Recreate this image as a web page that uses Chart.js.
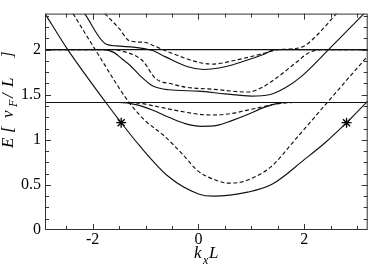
<!DOCTYPE html>
<html>
<head>
<meta charset="utf-8">
<script src="https://cdn.jsdelivr.net/npm/chart.js@4"></script>
<style>
  html, body { margin: 0; padding: 0; background: #fff; }
  #wrap { width: 374px; height: 268px; }
</style>
</head>
<body>
<div id="wrap"><canvas id="chart"></canvas></div>
<script>
// band data: k_x L  and  E [v_F/L]
const kSolid1 = [-2.9, -2.47, -1.75, -1.46, -1.12, -0.56, 0, 0.28, 0.93, 1.4, 2.0, 2.4, 2.8, 3.2];
const eSolid1 = [2.4, 2.0, 1.414, 1.19, 0.94, 0.59, 0.40, 0.375, 0.42, 0.51, 0.78, 0.97, 1.19, 1.43];

const kDash1 = [-2.37, -1.95, -1.31, -1.0, -0.65, -0.3, 0, 0.3, 0.56, 0.8, 1.0, 1.37, 1.87, 2.43, 3.2];
const eDash1 = [2.4, 2.0, 1.414, 1.21, 1.045, 0.84, 0.65, 0.56, 0.52, 0.53, 0.57, 0.70, 1.03, 1.41, 1.93];

const kSolid2 = [-2.9, -1.5, -1.18, -0.87, -0.56, -0.25, 0.05, 0.35, 0.62, 0.93, 1.24, 1.5, 1.7, 3.2];
const eSolid2 = [1.414, 1.414, 1.39, 1.33, 1.25, 1.18, 1.15, 1.16, 1.21, 1.28, 1.36, 1.405, 1.414, 1.414];

const kDash2 = [-2.9, -1.4, -1.1, -0.87, -0.37, 0.06, 0.25, 0.6, 0.93, 1.24, 1.55, 1.8, 3.2];
const eDash2 = [1.414, 1.414, 1.405, 1.38, 1.32, 1.28, 1.275, 1.29, 1.33, 1.37, 1.405, 1.414, 1.414];

const kSolid3 = [-2.9, -1.8, -1.6, -1.45, -1.3, -1.1, -0.87, -0.56, 0, 0.5, 1.0, 1.34, 1.65, 1.96, 2.46, 3.13];
const eSolid3 = [2.0, 2.0, 1.97, 1.9, 1.83, 1.71, 1.60, 1.555, 1.54, 1.51, 1.485, 1.50, 1.58, 1.71, 2.0, 2.4];

const kDash3 = [-2.9, -1.7, -1.45, -1.06, -0.81, -0.5, -0.25, 0.3, 0.93, 1.2, 1.53, 1.85, 2.1, 2.35, 3.2];
const eDash3 = [2.0, 2.0, 1.985, 1.88, 1.68, 1.62, 1.585, 1.56, 1.53, 1.58, 1.71, 1.86, 1.97, 2.0, 2.0];

const kSolid4 = [-2.15, -1.74, -1.49, -1.12, -0.87, -0.62, -0.2, 0.1, 0.5, 0.9, 1.24, 1.45, 3.2];
const eSolid4 = [2.4, 2.06, 2.04, 2.02, 1.99, 1.92, 1.81, 1.78, 1.81, 1.88, 1.95, 2.0, 2.0];

const kDash4 = [-1.77, -1.49, -1.31, -1.0, -0.87, -0.5, 0, 0.25, 0.75, 1.24, 1.5, 1.8, 2.0, 2.24, 2.61];
const eDash4 = [2.4, 2.23, 2.1, 2.08, 2.05, 1.96, 1.86, 1.84, 1.89, 1.96, 2.0, 2.01, 2.04, 2.16, 2.4];

const flatLevels = [Math.SQRT2, 2];
const kStars = [-1.46, 2.8];
const eStars = [1.19, 1.19];

const xTicks = [-2, 0, 2];
const yTicks = [0, 0.5, 1, 1.5, 2];

const SERIF = '"Liberation Serif"';

function pts(ks, es) {
    return ks.map((k, i) => ({ x: k, y: es[i] }));
}

function band(ks, es, dashed) {
    return {
        data: pts(ks, es),
        borderColor: '#111',
        borderWidth: 1.15,
        borderDash: dashed ? [4, 2.5] : [],
        pointRadius: 0,
        showLine: true,
        cubicInterpolationMode: 'monotone',
        fill: false
    };
}

const datasets = [];
flatLevels.forEach(e => datasets.push(band([-2.9, 3.2], [e, e], false)));
datasets.push(band(kSolid1, eSolid1, false));
datasets.push(band(kDash1, eDash1, true));
datasets.push(band(kSolid2, eSolid2, false));
datasets.push(band(kDash2, eDash2, true));
datasets.push(band(kSolid3, eSolid3, false));
datasets.push(band(kDash3, eDash3, true));
datasets.push(band(kSolid4, eSolid4, false));
datasets.push(band(kDash4, eDash4, true));
datasets.push({
    data: pts(kStars, eStars),
    showLine: false,
    pointStyle: 'star',
    pointRadius: 5,
    borderColor: '#000',
    backgroundColor: '#000',
    pointBorderWidth: 1.3
});

// frame with inward ticks on all four sides, plus axis titles
const framePlugin = {
    id: 'frame',
    afterDraw(chart) {
        const { ctx, chartArea: a, scales: { x, y } } = chart;
        ctx.save();
        ctx.strokeStyle = '#333';
        ctx.lineWidth = 1;
        ctx.strokeRect(a.left + 0.5, a.top + 0.5, a.right - a.left - 1, a.bottom - a.top - 1);
        ctx.beginPath();
        for (let v = -2.5; v <= 3.01; v += 0.5) {
            const px = Math.round(x.getPixelForValue(v)) + 0.5;
            const len = Math.abs(v % 2) < 1e-6 ? 6 : 4;
            ctx.moveTo(px, a.bottom); ctx.lineTo(px, a.bottom - len);
            ctx.moveTo(px, a.top); ctx.lineTo(px, a.top + len);
        }
        for (let v = 0.125; v <= 2.38; v += 0.125) {
            const py = Math.round(y.getPixelForValue(v)) + 0.5;
            const len = Math.abs(v % 0.5) < 1e-6 ? 6 : 4;
            ctx.moveTo(a.left, py); ctx.lineTo(a.left + len, py);
            ctx.moveTo(a.right, py); ctx.lineTo(a.right - len, py);
        }
        ctx.stroke();

        ctx.fillStyle = '#000';
        ctx.textBaseline = 'alphabetic';
        ctx.textAlign = 'left';
        // x title: k_x L
        ctx.font = 'italic 17px ' + SERIF;
        ctx.fillText('k', 194, 258);
        ctx.fillText('L', 209, 258);
        ctx.font = 'italic 12px ' + SERIF;
        ctx.fillText('x', 203, 264);

        // y title: E [ v_F/L ]
        ctx.translate(13, 0);
        ctx.rotate(-Math.PI / 2);
        ctx.font = 'italic 17px ' + SERIF;
        ctx.fillText('E', -148, 0);
        ctx.fillText('[', -133, 0);
        ctx.fillText('v', -118, 0);
        ctx.fillText('/', -98, 0);
        ctx.fillText('L', -87, 0);
        ctx.fillText(']', -58, 0);
        ctx.font = 'italic 12px ' + SERIF;
        ctx.fillText('F', -107, 4);
        ctx.restore();
    }
};

function draw() {
    new Chart(document.getElementById('chart'), {
        type: 'scatter',
        data: { datasets: datasets },
        options: {
            responsive: true,
            maintainAspectRatio: false,
            animation: false,
            layout: { padding: { top: 1, right: 1, left: 0, bottom: 0 } },
            plugins: { legend: { display: false }, tooltip: { enabled: false } },
            scales: {
                x: {
                    type: 'linear',
                    min: -2.9,
                    max: 3.2,
                    grid: { display: false, drawTicks: false },
                    border: { display: false },
                    afterBuildTicks: s => { s.ticks = xTicks.map(v => ({ value: v })); },
                    afterFit: s => { s.height = 38; },
                    ticks: {
                        color: '#000',
                        padding: 0,
                        maxRotation: 0,
                        callback: v => String(v),
                        font: { family: SERIF, size: 16 }
                    }
                },
                y: {
                    type: 'linear',
                    min: 0,
                    max: 2.4,
                    grid: { display: false, drawTicks: false },
                    border: { display: false },
                    afterBuildTicks: s => { s.ticks = yTicks.map(v => ({ value: v })); },
                    afterFit: s => { s.width = 45; },
                    ticks: {
                        color: '#000',
                        padding: 4,
                        callback: v => String(v),
                        font: { family: SERIF, size: 16 }
                    }
                }
            }
        },
        plugins: [framePlugin]
    });
}

Promise.all([
    document.fonts.load('16px "Liberation Serif"'),
    document.fonts.load('italic 17px "Liberation Serif"')
]).then(draw, draw);
</script>
</body>
</html>
